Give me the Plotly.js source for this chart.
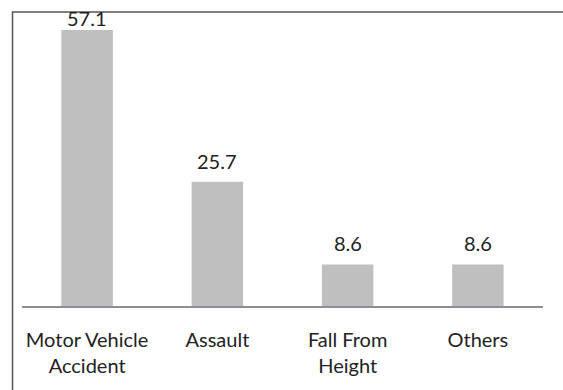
<!DOCTYPE html>
<html>
<head>
<meta charset="utf-8">
<script src="https://cdn.plot.ly/plotly-3.0.1.min.js"></script>
<style>html,body{margin:0;padding:0;background:#fff;}#chart{width:563px;height:390px;}</style>
</head>
<body>
<div id="chart"></div>
<script>
var categories = ["Motor Vehicle<br>Accident", "Assault", "Fall From<br>Height", "Others"];
var values = [57.1, 25.7, 8.6, 8.6];
var valueLabels = ["57.1", "25.7", "8.6", "8.6"];

var FONT = "Lato, 'Open Sans', sans-serif";
var H = 390, MT = 15.5, MB = 83.5, YMAX = 60;
var pxPerUnit = (H - MT - MB) / YMAX;

var trace = {
  type: "bar",
  x: categories,
  y: values,
  marker: {color: "#bfbfbf"},
  width: 0.395,
  hoverinfo: "none"
};

// value labels: sit above bars, kept inside the chart frame like the original
var annotations = values.map(function (v, i) {
  var barTop = MT + (YMAX - v) * pxPerUnit;
  var shift = Math.min(7, barTop - 32);
  return {
    x: categories[i], y: v, xref: "x", yref: "y",
    text: valueLabels[i], showarrow: false,
    yanchor: "bottom", yshift: shift,
    font: {family: FONT, size: 20, color: "#222"}
  };
});

var layout = {
  width: 563, height: H,
  margin: {l: 22, r: 20, t: MT, b: MB},
  paper_bgcolor: "#fff", plot_bgcolor: "#fff",
  showlegend: false,
  font: {family: FONT, size: 20, color: "#222"},
  xaxis: {
    type: "category",
    showline: true, linecolor: "#8a9099", linewidth: 1.5,
    showgrid: false, zeroline: false,
    ticks: "", ticklabelstandoff: 15,
    tickfont: {family: FONT, size: 20, color: "#222"}
  },
  yaxis: {
    range: [0, YMAX], visible: false, showgrid: false, zeroline: false
  },
  annotations: annotations,
  shapes: [{
    type: "rect", xref: "paper", yref: "paper",
    x0: -0.0182, x1: 1.06, y0: -0.35, y1: 1.0137,
    line: {color: "#555", width: 1.5}, fillcolor: "rgba(0,0,0,0)", layer: "above"
  }]
};

Plotly.newPlot("chart", [trace], layout, {displayModeBar: false, staticPlot: true});
</script>
</body>
</html>
